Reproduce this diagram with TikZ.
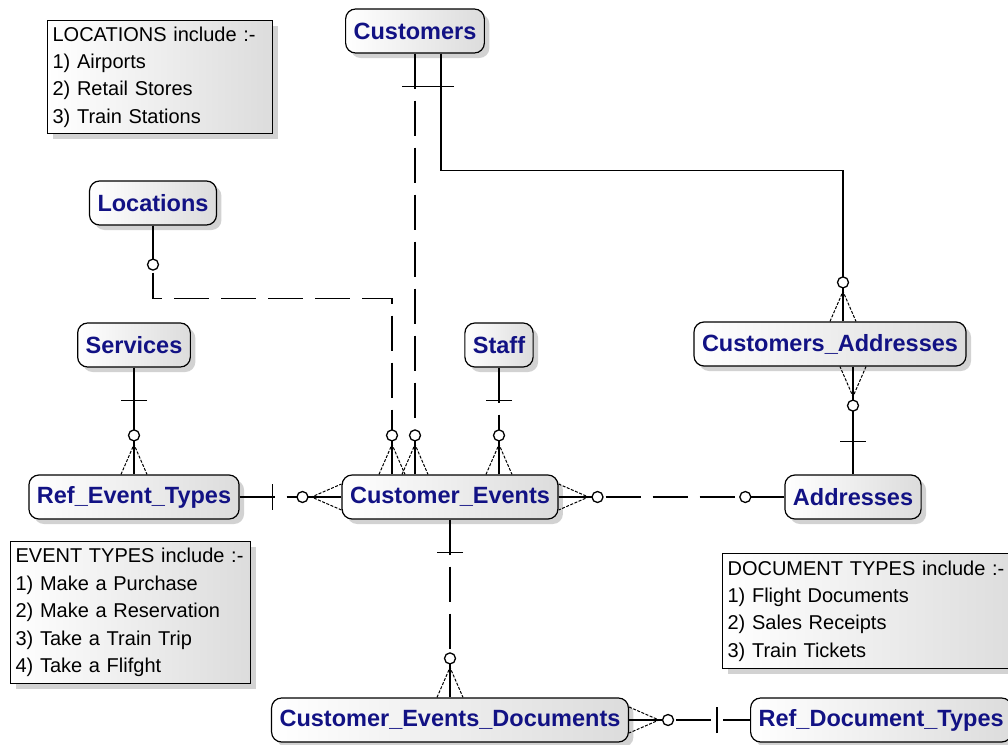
\documentclass[tikz,border=0pt]{standalone}
\usepackage{fontspec}
\setmainfont{Liberation Sans}
\usetikzlibrary{shadows}
\definecolor{erblue}{RGB}{18,18,132}
\definecolor{erfill}{RGB}{220,220,220}
\begin{document}
\begin{tikzpicture}[x=1pt,y=-1pt,
	entity/.style={draw,line width=1.2pt,rounded corners=10pt,minimum height=44pt,
		inner xsep=8pt,left color=white,right color=erfill,
		drop shadow={shadow xshift=5pt,shadow yshift=-5pt,fill=black!35},
		text=erblue,font=\bfseries\fontsize{23.5}{28}\selectfont},
	note/.style={draw,line width=1.2pt,anchor=north west,align=left,inner xsep=5pt,
		left color=white,right color=erfill,
		drop shadow={shadow xshift=5pt,shadow yshift=-5pt,fill=black!35},
		font=\fontsize{20}{27.4}\selectfont},
	rel/.style={line width=1.3pt},
	opt/.style={rel,dash pattern=on 35pt off 12pt},
	leg/.style={line width=1pt,dash pattern=on 3pt off 1.5pt},
	one/.pic={\draw[rel] (-13,-33) -- (13,-33);},
	zone/.pic={\draw[rel] (0,0) -- (0,-34);
		\draw[rel,fill=white] (0,-39) circle (5.5);},
	zmany/.pic={\draw[leg] (-13,0) -- (0,-30) -- (13,0);
		\draw[rel] (0,0) -- (0,-34);
		\draw[rel,fill=white] (0,-39) circle (5.5);}]
\useasboundingbox (0,0) rectangle (1008,744);

\node[note,text width=215pt,minimum height=113pt] (locnote) at (47,20)
	{LOCATIONS include :-\\1) Airports\\2) Retail Stores\\3) Train Stations};
\node[note,text width=230pt,minimum height=142pt] (evnote) at (10,541)
	{EVENT TYPES include :-\\1) Make a Purchase\\2) Make a Reservation\\3) Take a Train Trip\\4) Take a Flifght};
\node[note,text width=290pt,minimum height=115pt] (docnote) at (722,553)
	{DOCUMENT TYPES include :-\\1) Flight Documents\\2) Sales Receipts\\3) Train Tickets};

\node[entity] (cust) at (415,31) {Customers};
\node[entity] (loc) at (153,203) {Locations};
\node[entity] (svc) at (134,345) {Services};
\node[entity] (staff) at (499,345) {Staff};
\node[entity] (caddr) at (830,344) {Customers\_Addresses};
\node[entity] (ret) at (134,497) {Ref\_Event\_Types};
\node[entity] (cev) at (450,497) {Customer\_Events};
\node[entity] (addr) at (853,497) {Addresses};
\node[entity] (ced) at (450,720) {Customer\_Events\_Documents};
\node[entity,anchor=west] (rdt) at (750,720) {Ref\_Document\_Types};

\draw[opt] (cust.south) -- (cust.south |- cev.north);
\pic[rotate=180] at (cust.south) {one};
\pic at (cust.south |- cev.north) {zmany};

\draw[rel] ([xshift=26pt]cust.south) -- ++(0,117) -| ([xshift=13pt]caddr.north);
\pic[rotate=180] at ([xshift=26pt]cust.south) {one};
\pic at ([xshift=13pt]caddr.north) {zmany};

\draw[opt] (loc.south) -- ++(0,73) -| ([xshift=-58pt]cev.north);
\pic[rotate=180] at (loc.south) {zone};
\pic at ([xshift=-58pt]cev.north) {zmany};

\draw[rel] (svc.south) -- (ret.north);
\pic[rotate=180] at (svc.south) {one};
\pic at (ret.north) {zmany};

\draw[opt] (ret.east) -- (cev.west);
\pic[rotate=-90] at (ret.east) {one};
\pic[rotate=90] at (cev.west) {zmany};

\draw[opt] (staff.south) -- (staff.south |- cev.north);
\pic[rotate=180] at (staff.south) {one};
\pic at (staff.south |- cev.north) {zmany};

\draw[opt] (cev.east) -- (addr.west);
\pic[rotate=-90] at (cev.east) {zmany};
\pic[rotate=90] at (addr.west) {zone};

\draw[rel] (addr.north) -- (addr.north |- caddr.south);
\pic at (addr.north) {one};
\pic[rotate=180] at (addr.north |- caddr.south) {zmany};

\draw[opt] (cev.south) -- (ced.north);
\pic[rotate=180] at (cev.south) {one};
\pic at (ced.north) {zmany};

\draw[opt] (ced.east) -- (rdt.west);
\pic[rotate=-90] at (ced.east) {zmany};
\pic[rotate=90] at (rdt.west) {one};
\end{tikzpicture}
\end{document}
